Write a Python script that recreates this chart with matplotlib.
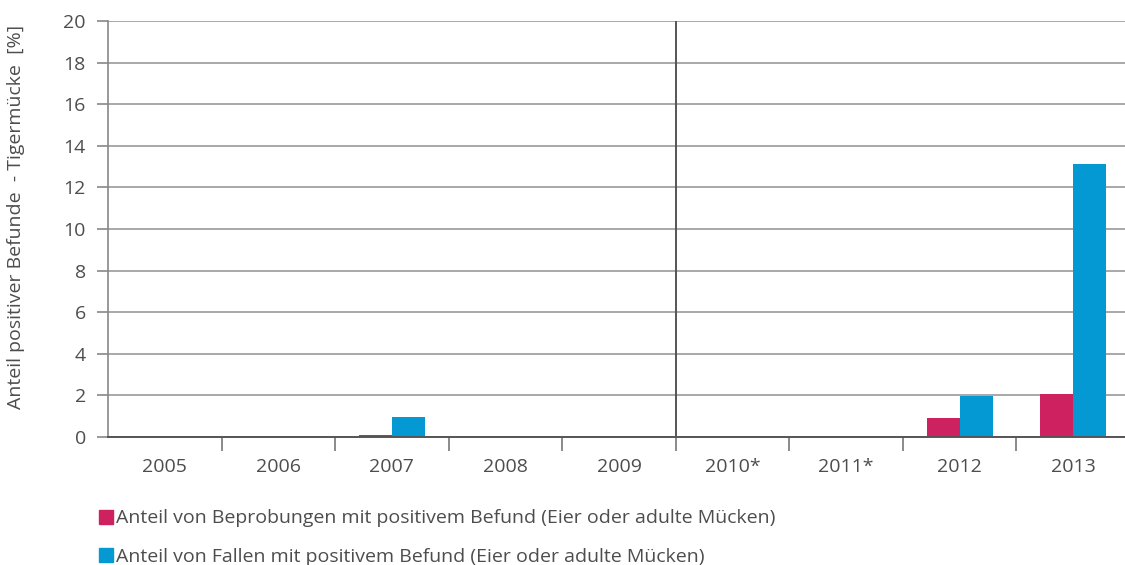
import numpy as np
import matplotlib
matplotlib.use("Agg")
import matplotlib.pyplot as plt
from matplotlib.lines import Line2D

years = ["2005", "2006", "2007", "2008", "2009", "2010*", "2011*", "2012", "2013"]
beprobungen = [0, 0, 0.1, 0, 0, 0, 0, 0.9, 2.07]
fallen = [0, 0, 0.95, 0, 0, 0, 0, 1.97, 13.15]
labels = ["Anteil von Beprobungen mit positivem Befund (Eier oder adulte Mücken)",
          "Anteil von Fallen mit positivem Befund (Eier oder adulte Mücken)"]

pink = "#CE2160"
blue = "#0599D4"
txt = "#4d4d4d"
fs = 14

plt.rcParams['font.family'] = ['Open Sans', 'DejaVu Sans']

fig = plt.figure(figsize=(11.25, 5.65), dpi=100)
ax = fig.add_axes([0.096, 0.2265, 0.9084, 0.7363])

x = np.arange(len(years))
w = 0.29
ax.bar(x - w / 2, beprobungen, w, color=pink, zorder=3)
ax.bar(x + w / 2, fallen, w, color=blue, zorder=3)

ax.set_xlim(-0.5, len(years) - 0.5)
ax.set_ylim(0, 20)
ax.set_yticks(range(0, 21, 2))
ax.yaxis.grid(True, color="#a8a8a8", lw=1.4, zorder=0)

# separator between 2009 and 2010
ax.axvline(4.5, color="#555555", lw=1.4, zorder=4)

ax.set_xticks(x)
ax.set_xticklabels(years)
ax.set_xticks(x[:-1] + 0.5, minor=True)
ax.tick_params(axis="x", which="major", length=0, pad=15, labelsize=fs, colors=txt)
ax.tick_params(axis="x", which="minor", length=10, width=1.2, color="#777777")
ax.tick_params(axis="y", length=8, width=1.2, color="#888888", labelsize=fs, labelcolor=txt, pad=8)

for s in ["top", "right"]:
    ax.spines[s].set_visible(False)
ax.spines["left"].set_color("#888888")
ax.spines["left"].set_linewidth(1.2)
ax.spines["bottom"].set_color("#555555")
ax.spines["bottom"].set_linewidth(1.4)
ax.spines["bottom"].set_zorder(5)

ax.set_ylabel("Anteil positiver Befunde  - Tigermücke  [%]", fontsize=fs, color=txt)
ax.yaxis.set_label_coords(-0.081, 0.53)

handles = [Line2D([], [], marker="s", ls="", color=c, markersize=9.5) for c in (pink, blue)]
fig.legend(handles, labels, loc="upper left", bbox_to_anchor=(0.081, 0.112), frameon=False,
           fontsize=fs, labelcolor=txt, handletextpad=0.2, labelspacing=1.05,
           handlelength=0.7, borderaxespad=0)

fig.savefig("out.png", dpi=100)
